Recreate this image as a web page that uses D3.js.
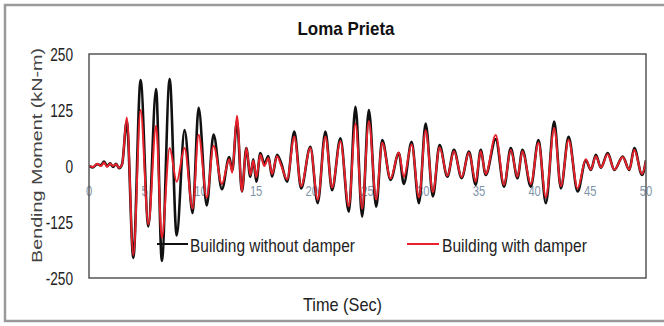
<!DOCTYPE html>
<html>
<head>
<meta charset="utf-8">
<script src="https://cdn.jsdelivr.net/npm/d3@7"></script>
<style>
  html, body { margin: 0; padding: 0; background: #fff; }
  svg { display: block; font-family: "Liberation Sans", Arial, sans-serif; }
</style>
</head>
<body>
<svg id="chart" width="664" height="326"></svg>
<script>
// ---- data ----
const chartTitle = "Loma Prieta";
const xTitle = "Time (Sec)";
const yTitle = "Bending Moment (kN-m)";
const seriesNames = ["Building without damper", "Building with damper"];
const xTicks = [0, 5, 10, 15, 20, 25, 30, 35, 40, 45, 50];
const yTicks = [250, 125, 0, -125, -250];

const times = [0, 0.36, 0.72, 1.08, 1.35, 1.62, 1.89, 2.16, 2.43, 2.70, 2.97,
  3.39, 3.98, 4.63, 5.33, 6.02, 6.54, 7.24, 7.87, 8.58, 9.30,
  9.84, 10.57, 11.18, 11.93, 12.59, 12.86, 13.28, 13.73, 14.12, 14.48,
  14.75, 15.02, 15.38, 15.74, 16.10, 16.43, 16.88, 17.27, 17.78, 18.43,
  19.04, 19.87, 20.53, 21.22, 21.82, 22.57, 23.32, 23.92, 24.52, 25.12,
  25.78, 26.32, 27.07, 27.81, 28.26, 28.96, 29.62, 30.22, 30.87, 31.47,
  32.17, 32.76, 33.45, 34.11, 34.71, 35.16, 35.61, 36.51, 37.26, 37.86,
  38.46, 38.91, 39.66, 40.35, 41.01, 41.76, 42.36, 43.05, 43.86, 44.60,
  45.05, 45.50, 45.95, 46.56, 47.16, 47.91, 48.50, 48.95, 49.64, 50];

const withoutDamper = [0, -3, 4, 2, 10, 0, 6, -2, 5, -5, 4,
  100, -205, 192, -135, 172, -212, 194, -155, 80, -105,
  130, -88, 70, -52, 20, -10, 100, -57, 40, -24,
  15, -35, 29, 5, 22, -24, 25, 5, -35, 77,
  -50, 43, -83, 77, -54, 62, -102, 132, -113, 125,
  -91, 58, -31, 29, -40, 54, -83, 95, -68, 47,
  -24, 36, -27, 32, -42, 36, -20, 60, -46, 40,
  -27, 36, -46, 58, -83, 99, -50, 65, -57, 13,
  -9, 25, -4, 29, -9, 21, -9, 40, -20, 13];

const withDamper = [0, -2, 5, 0, 8, -2, 5, 0, 4, -4, 3,
  108, -199, 125, -130, 90, -160, 40, -35, 40, -95,
  70, -70, 45, -40, 15, -15, 112, -57, 40, -20,
  12, -25, 25, 0, 18, -18, 22, 0, -30, 66,
  -45, 40, -75, 66, -48, 55, -90, 95, -95, 100,
  -75, 52, -28, 30, -24, 48, -70, 80, -58, 42,
  -22, 33, -25, 30, -35, 33, -18, 69, -42, 36,
  -24, 33, -40, 52, -70, 85, -45, 58, -50, 15,
  -8, 22, -3, 26, -8, 20, -8, 36, -18, 12];

// ---- drawing ----
const svg = d3.select("#chart");
const plot = { left: 89, right: 646, top: 54, bottom: 278 };

const x = d3.scaleLinear().domain([0, 50]).range([plot.left, plot.right]);
const y = d3.scaleLinear().domain([-250, 250]).range([plot.bottom, plot.top]);

// text helper: scales glyphs horizontally so the text fits a given width
function addText(str, px, py, opts) {
  const g = svg.append("g");
  const t = g.append("text")
    .text(str)
    .attr("x", 0).attr("y", 0)
    .attr("font-size", opts.size)
    .attr("font-weight", opts.weight || "normal")
    .attr("fill", opts.fill || "#222")
    .attr("text-anchor", opts.anchor || "start");
  const natural = t.node().getComputedTextLength();
  const s = opts.width ? opts.width / natural : (opts.sx || 1);
  const rot = opts.rotate ? ` rotate(${opts.rotate})` : "";
  g.attr("transform", `translate(${px},${py})${rot} scale(${s},1)`);
  return t;
}

// outer frame
svg.append("rect")
  .attr("x", 5).attr("y", 5).attr("width", 720).attr("height", 316)
  .attr("fill", "none").attr("stroke", "#9a9a9a").attr("stroke-width", 2.5);

// title
addText(chartTitle, 346, 35, { size: 19, weight: "bold", anchor: "middle", width: 97, fill: "#111" });

// y tick labels
yTicks.forEach(v => {
  addText(String(v), 73, y(v) + 6.5, { size: 18, anchor: "end", sx: 0.76, fill: "#222" });
});

// y title
addText(yTitle, 42, 155.5, { size: 14, anchor: "middle", rotate: -90, width: 215, fill: "#444" });

// x title
addText(xTitle, 342.5, 311, { size: 19, anchor: "middle", width: 79, fill: "#222" });

// x tick labels (drawn inside the plot, below the zero line)
xTicks.forEach(v => {
  addText(String(v), x(v), 196, { size: 14, anchor: "middle", sx: 0.8, fill: "#7f95aa" });
});

// series lines
const line = d3.line().x(d => x(d[0])).y(d => y(d[1])).curve(d3.curveMonotoneX);
const blackData = times.map((t, i) => [t, withoutDamper[i]]);
const redData = times.map((t, i) => [t, withDamper[i]]);

svg.append("clipPath").attr("id", "clip").append("rect")
  .attr("x", plot.left).attr("y", plot.top)
  .attr("width", plot.right - plot.left).attr("height", plot.bottom - plot.top);

svg.append("path").datum(blackData)
  .attr("d", line).attr("fill", "none")
  .attr("stroke", "#111").attr("stroke-width", 2.6)
  .attr("stroke-linejoin", "round")
  .attr("clip-path", "url(#clip)");
svg.append("path").datum(redData)
  .attr("d", line).attr("fill", "none")
  .attr("stroke", "#e8212b").attr("stroke-width", 2)
  .attr("stroke-linejoin", "round")
  .attr("clip-path", "url(#clip)");

// plot border
svg.append("rect")
  .attr("x", plot.left).attr("y", plot.top)
  .attr("width", plot.right - plot.left).attr("height", plot.bottom - plot.top)
  .attr("fill", "none").attr("stroke", "#555").attr("stroke-width", 1.5);

// legend
const legend = [
  { name: seriesNames[0], color: "#111", x1: 157, x2: 188, tx: 190, w: 165 },
  { name: seriesNames[1], color: "#e8212b", x1: 407, x2: 439, tx: 442, w: 145 }
];
legend.forEach(l => {
  svg.append("line")
    .attr("x1", l.x1).attr("x2", l.x2).attr("y1", 244).attr("y2", 244)
    .attr("stroke", l.color).attr("stroke-width", 2);
  addText(l.name, l.tx, 252, { size: 19, anchor: "start", width: l.w, fill: "#222" });
});
</script>
</body>
</html>
